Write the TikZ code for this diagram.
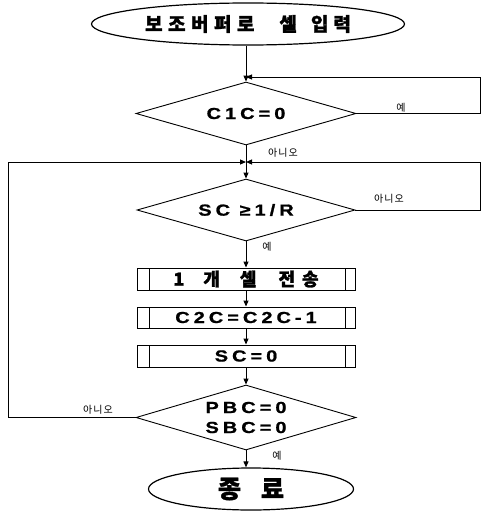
\documentclass[tikz,border=0pt]{standalone}
\usepackage{fontspec}
\setmainfont{Liberation Sans}
\newfontfamily\kr{Noto Sans CJK KR}
\newcommand\kgap[1]{\hspace{#1pt}}
\usetikzlibrary{shapes.geometric,arrows.meta,calc}
\begin{document}
\begin{tikzpicture}[x=1pt,y=-1pt,
  line width=1pt,
  >={Triangle[length=6pt,width=5pt]},
  term/.style={ellipse, draw, line width=1.2pt, inner sep=0pt},
  dec/.style={diamond, draw, line width=0.9pt, inner sep=0pt, aspect=3.5},
  proc/.style={rectangle, draw, line width=0.9pt, minimum width=218pt, inner sep=0pt,
    path picture={\draw[line width=0.9pt]
      ([xshift=12pt]path picture bounding box.north west) -- ([xshift=12pt]path picture bounding box.south west)
      ([xshift=-10pt]path picture bounding box.north east) -- ([xshift=-10pt]path picture bounding box.south east);}},
  lat/.style={font=\fontsize{16}{20}\selectfont\bfseries\addfontfeature{LetterSpace=25,FakeStretch=1.25,FakeBold=1}},
  krb/.style={font=\kr\bfseries\fontsize{#1}{#1}\selectfont\addfontfeature{FakeBold=1.5}},
  lbl/.style={font=\kr\fontsize{10}{12}\selectfont\addfontfeature{LetterSpace=10}, inner sep=0pt},
]
\useasboundingbox (0,0) rectangle (482,511);

\node[term, minimum width=313pt, minimum height=42pt, krb=19] (start) at (248,24)
  {보\kgap{5.5}조\kgap{5.5}버\kgap{5.5}퍼\kgap{5.5}로\kgap{25}셀\kgap{14}입\kgap{5}력};
\node[dec, minimum width=220pt, minimum height=63pt, lat] (c1) at (246,113.5) {C1C=0};
\node[dec, minimum width=218pt, minimum height=62pt, lat] (sc) at (246,210) {SC ≥1/R};
\node[proc, minimum height=22pt, krb=18] (p1) at (246,279) {1\kgap{19}개\kgap{20}셀\kgap{22}전\kgap{7}송};
\node[proc, minimum height=21pt, lat] (p2) at (246,317.5) {C2C=C2C-1};
\node[proc, minimum height=22pt, lat] (p3) at (246,356) {SC=0};
\node[dec, minimum width=220pt, minimum height=65pt, lat, align=center] (pbc) at (246,417.5) {PBC=0\\SBC=0};
\node[term, minimum width=205pt, minimum height=42pt, krb=25] (end) at (251,489) {종\kgap{20}료};

\coordinate (j1) at (246,77);
\coordinate (j2) at (246,162);
\coordinate (rx) at (480,0);
\coordinate (lx) at (8,0);

\draw[->] (start.south -| c1.north) -- (c1.north);
\draw[->] (c1.east) -- (c1.east -| rx) |- (j1);
\draw[->] (c1.south) -- (sc.north);
\draw[->] (sc.east) -- (sc.east -| rx) |- (j2);
\draw[->] (pbc.west) -- (pbc.west -| lx) |- (j2);
\draw[->] (sc.south) -- (p1.north);
\draw[->] (p1.south) -- (p2.north);
\draw[->] (p2.south) -- (p3.north);
\draw[->] (p3.south) -- (pbc.north);
\draw[->] (pbc.south) -- (pbc.south |- end.north);

\node[lbl] (l1) at (401,108) {예};
\node[lbl] (l2) at (283,153) {아니오};
\node[lbl] (l3) at (389,199) {아니오};
\node[lbl] (l4) at (267,247) {예};
\node[lbl] (l5) at (98,410) {아니오};
\node[lbl] (l6) at (277,456) {예};
\end{tikzpicture}
\end{document}
